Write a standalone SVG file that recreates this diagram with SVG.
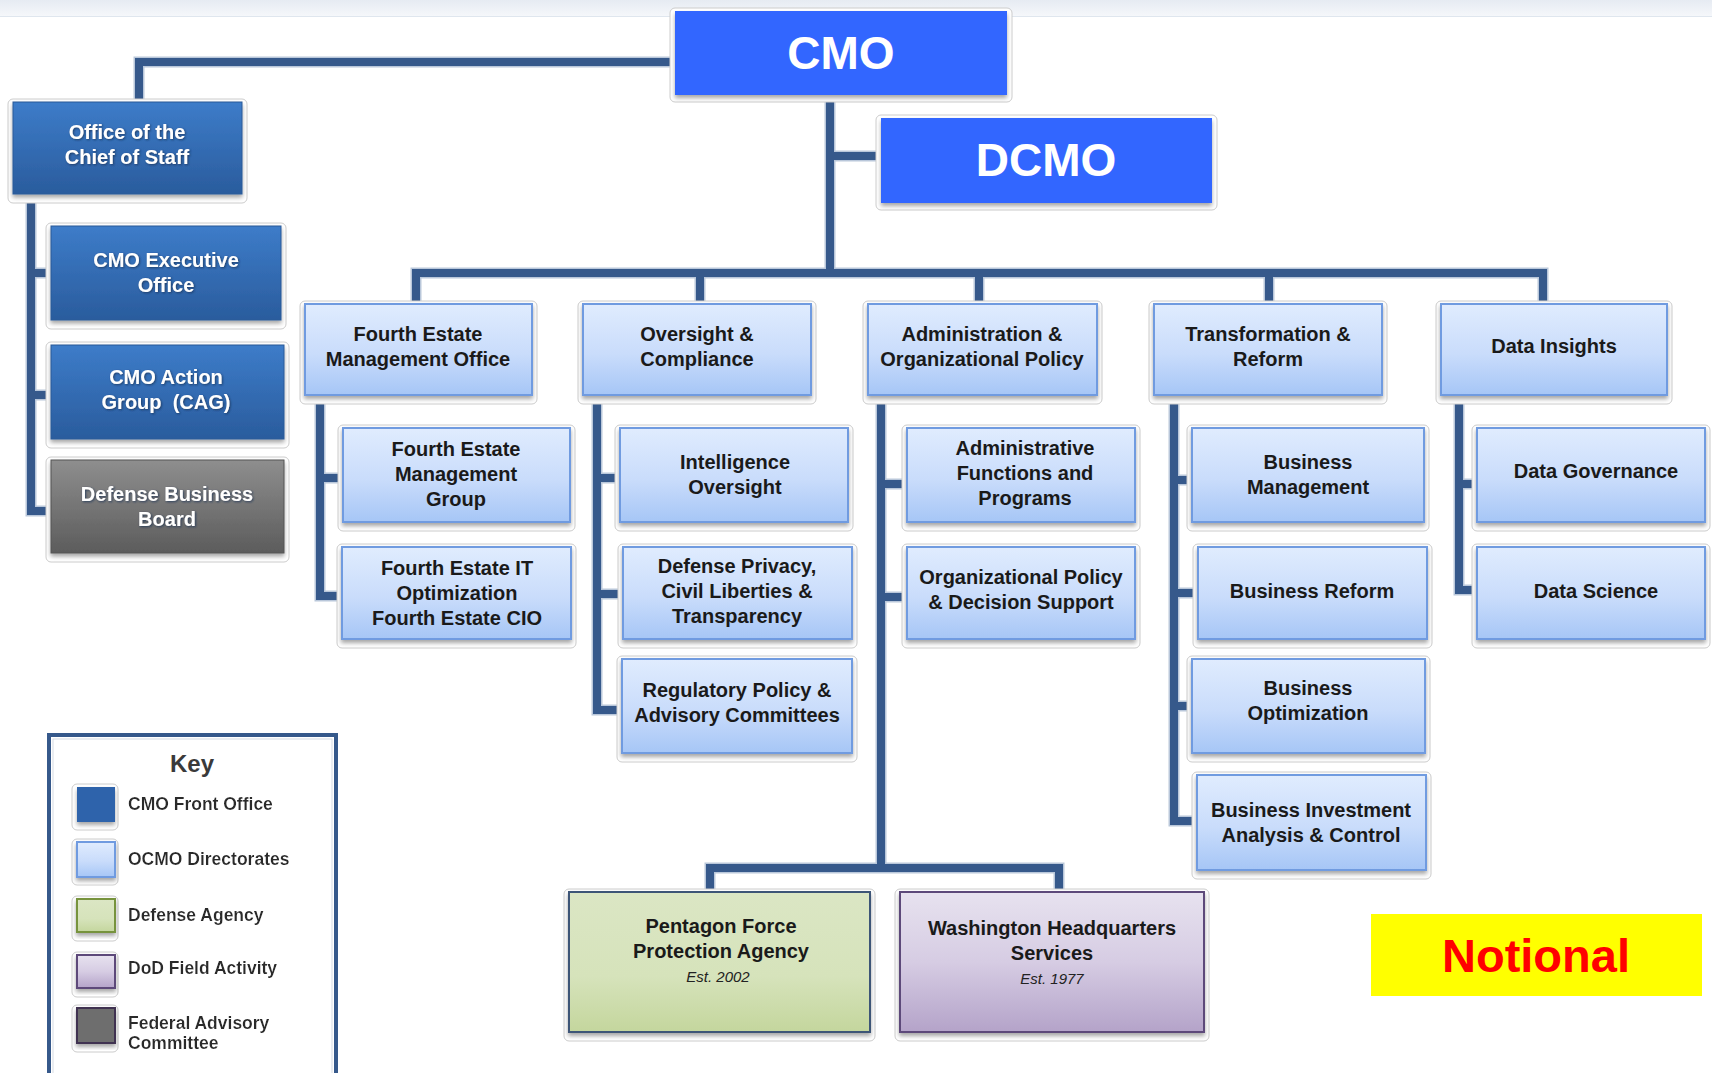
<svg xmlns="http://www.w3.org/2000/svg" width="1712" height="1073" viewBox="0 0 1712 1073">
<defs>
<linearGradient id="gLB" x1="0" y1="0" x2="0" y2="1"><stop offset="0" stop-color="#e0ecfe"/><stop offset="0.55" stop-color="#c9dcfb"/><stop offset="1" stop-color="#a6c6f6"/></linearGradient>
<linearGradient id="gDB" x1="0" y1="0" x2="0" y2="1"><stop offset="0" stop-color="#3d7cc9"/><stop offset="1" stop-color="#2a5c9d"/></linearGradient>
<linearGradient id="gGR" x1="0" y1="0" x2="0" y2="1"><stop offset="0" stop-color="#8e8e8e"/><stop offset="1" stop-color="#5c5c5c"/></linearGradient>
<linearGradient id="gGN" x1="0" y1="0" x2="0" y2="1"><stop offset="0" stop-color="#dbe6c4"/><stop offset="0.6" stop-color="#d6e3bb"/><stop offset="1" stop-color="#c4d69d"/></linearGradient>
<linearGradient id="gPU" x1="0" y1="0" x2="0" y2="1"><stop offset="0" stop-color="#e7e2ef"/><stop offset="0.5" stop-color="#d6cce3"/><stop offset="1" stop-color="#b4a3c9"/></linearGradient>
<linearGradient id="gTop" x1="0" y1="0" x2="0" y2="1"><stop offset="0" stop-color="#e6ebf2"/><stop offset="1" stop-color="#f5f7fa"/></linearGradient>
<filter id="sh" x="-10%" y="-10%" width="120%" height="130%"><feDropShadow dx="0" dy="3" stdDeviation="2" flood-color="#000" flood-opacity="0.35"/></filter>
<filter id="ts" x="-5%" y="-20%" width="110%" height="140%"><feDropShadow dx="1" dy="1" stdDeviation="0.8" flood-color="#1b3355" flood-opacity="0.8"/></filter>
<filter id="tg" x="-5%" y="-20%" width="110%" height="140%"><feDropShadow dx="0" dy="0" stdDeviation="1" flood-color="#ffffff" flood-opacity="1"/></filter>
</defs>
<style>
.halo{fill:#ffffff;stroke:#cccccc;stroke-width:1}
.lb{fill:url(#gLB);stroke:#6f9be0;stroke-width:2;filter:url(#sh)}
.db{fill:url(#gDB);stroke:#2a5a98;stroke-width:1;filter:url(#sh)}
.gr{fill:url(#gGR);stroke:#555;stroke-width:1;filter:url(#sh)}
.gn{fill:url(#gGN);stroke:#3d5577;stroke-width:2;filter:url(#sh)}
.pu{fill:url(#gPU);stroke:#5d4a7a;stroke-width:2;filter:url(#sh)}
.top{fill:#3366ff;filter:url(#sh)}
.t{font-family:"Liberation Sans",Arial,sans-serif;font-size:20px;font-weight:bold;fill:#1a1a1a;text-anchor:middle}
.tw{font-family:"Liberation Sans",Arial,sans-serif;font-size:20px;font-weight:bold;fill:#ffffff;text-anchor:middle;filter:url(#ts)}
.big{font-family:"Liberation Sans",Arial,sans-serif;font-size:46px;font-weight:bold;fill:#ffffff;text-anchor:middle}
.est{font-family:"Liberation Sans",Arial,sans-serif;font-size:15px;font-style:italic;fill:#222;text-anchor:middle}
.lg{font-family:"Liberation Sans",Arial,sans-serif;font-size:17.5px;font-weight:bold;fill:#2a2a2a;filter:url(#tg)}
.under{fill:none;stroke:#b9c7da;stroke-width:11}
.conn{fill:none;stroke:#36598b;stroke-width:8}
</style>
<rect x="0" y="0" width="1712" height="1073" fill="#ffffff"/>
<rect x="0" y="0" width="1712" height="16" fill="url(#gTop)"/>
<line x1="0" y1="16.5" x2="1712" y2="16.5" stroke="#dfe6ee" stroke-width="1"/>

<g id="connectors">
<path class="under" d="M675 62 H139 V102 M31 194 V511 H51 M31 273 H51 M31 395 H51 M830 95 V273 M830 156 H881 M416 302 V273 H1543 V302 M700 273 V304 M979 273 V304 M1269 273 V304 M320 395 V596 H342 M320 478 H343 M597 395 V710 H622 M597 478 H620 M597 594 H623 M881 395 V868 M881 484 H907 M881 597 H907 M710 893 V868 H1059 V893 M1174 395 V821 H1197 M1174 480 H1192 M1174 593 H1198 M1174 706 H1192 M1459 395 V590 H1477 M1459 484 H1477"/>
<path class="conn" d="M675 62 H139 V102 M31 194 V511 H51 M31 273 H51 M31 395 H51 M830 95 V273 M830 156 H881 M416 302 V273 H1543 V302 M700 273 V304 M979 273 V304 M1269 273 V304 M320 395 V596 H342 M320 478 H343 M597 395 V710 H622 M597 478 H620 M597 594 H623 M881 395 V868 M881 484 H907 M881 597 H907 M710 893 V868 H1059 V893 M1174 395 V821 H1197 M1174 480 H1192 M1174 593 H1198 M1174 706 H1192 M1459 395 V590 H1477 M1459 484 H1477"/>
</g>

<g id="cmo">
<rect class="halo" x="670" y="8" width="342" height="94" rx="5"/>
<rect class="top" x="675" y="11" width="332" height="84"/>
<text class="big" x="841" y="69">CMO</text>
</g>
<g id="dcmo">
<rect class="halo" x="876" y="115" width="341" height="95" rx="5"/>
<rect class="top" x="881" y="118" width="331" height="85"/>
<text class="big" x="1046" y="176">DCMO</text>
</g>

<g id="ocs">
<rect class="halo" x="8" y="99" width="239" height="104" rx="5"/>
<rect class="db" x="13" y="102" width="229" height="92"/>
<text class="tw" x="127" y="139">Office of the</text>
<text class="tw" x="127" y="164">Chief of Staff</text>
</g>
<g id="cmo-exec">
<rect class="halo" x="46" y="223" width="240" height="106" rx="5"/>
<rect class="db" x="51" y="226" width="230" height="94"/>
<text class="tw" x="166" y="267">CMO Executive</text>
<text class="tw" x="166" y="292">Office</text>
</g>
<g id="cmo-cag">
<rect class="halo" x="46" y="342" width="243" height="106" rx="5"/>
<rect class="db" x="51" y="345" width="233" height="94"/>
<text class="tw" x="166" y="384">CMO Action</text>
<text class="tw" x="166" y="409" xml:space="preserve">Group  (CAG)</text>
</g>
<g id="dbb">
<rect class="halo" x="46" y="457" width="243" height="105" rx="5"/>
<rect class="gr" x="51" y="460" width="233" height="93"/>
<text class="tw" x="167" y="501">Defense Business</text>
<text class="tw" x="167" y="526">Board</text>
</g>

<g id="femo">
<rect class="halo" x="300" y="301" width="237" height="103" rx="5"/>
<rect class="lb" x="305" y="304" width="227" height="91"/>
<text class="t" x="418" y="341" fill="#333">Fourth Estate</text>
<text class="t" x="418" y="366" fill="#333">Management Office</text>
</g>
<g id="oc">
<rect class="halo" x="578" y="301" width="238" height="103" rx="5"/>
<rect class="lb" x="583" y="304" width="228" height="91"/>
<text class="t" x="697" y="341">Oversight &amp;</text>
<text class="t" x="697" y="366">Compliance</text>
</g>
<g id="aop">
<rect class="halo" x="863" y="301" width="239" height="103" rx="5"/>
<rect class="lb" x="868" y="304" width="229" height="91"/>
<text class="t" x="982" y="341">Administration &amp;</text>
<text class="t" x="982" y="366">Organizational Policy</text>
</g>
<g id="tr">
<rect class="halo" x="1149" y="301" width="238" height="103" rx="5"/>
<rect class="lb" x="1154" y="304" width="228" height="91"/>
<text class="t" x="1268" y="341">Transformation &amp;</text>
<text class="t" x="1268" y="366">Reform</text>
</g>
<g id="di">
<rect class="halo" x="1436" y="301" width="236" height="103" rx="5"/>
<rect class="lb" x="1441" y="304" width="226" height="91"/>
<text class="t" x="1554" y="353">Data Insights</text>
</g>

<g id="femg">
<rect class="halo" x="338" y="425" width="237" height="106" rx="5"/>
<rect class="lb" x="343" y="428" width="227" height="94"/>
<text class="t" x="456" y="456">Fourth Estate</text>
<text class="t" x="456" y="481">Management</text>
<text class="t" x="456" y="506">Group</text>
</g>
<g id="feit">
<rect class="halo" x="337" y="544" width="239" height="104" rx="5"/>
<rect class="lb" x="342" y="547" width="229" height="92"/>
<text class="t" x="457" y="575">Fourth Estate IT</text>
<text class="t" x="457" y="600">Optimization</text>
<text class="t" x="457" y="625">Fourth Estate CIO</text>
</g>

<g id="io">
<rect class="halo" x="615" y="425" width="238" height="106" rx="5"/>
<rect class="lb" x="620" y="428" width="228" height="94"/>
<text class="t" x="735" y="469">Intelligence</text>
<text class="t" x="735" y="494">Oversight</text>
</g>
<g id="dpclt">
<rect class="halo" x="618" y="544" width="239" height="104" rx="5"/>
<rect class="lb" x="623" y="547" width="229" height="92"/>
<text class="t" x="737" y="573">Defense Privacy,</text>
<text class="t" x="737" y="598">Civil Liberties &amp;</text>
<text class="t" x="737" y="623">Transparency</text>
</g>
<g id="rpac">
<rect class="halo" x="617" y="656" width="240" height="106" rx="5"/>
<rect class="lb" x="622" y="659" width="230" height="94"/>
<text class="t" x="737" y="697">Regulatory Policy &amp;</text>
<text class="t" x="737" y="722">Advisory Committees</text>
</g>

<g id="afp">
<rect class="halo" x="902" y="425" width="238" height="106" rx="5"/>
<rect class="lb" x="907" y="428" width="228" height="94"/>
<text class="t" x="1025" y="455">Administrative</text>
<text class="t" x="1025" y="480">Functions and</text>
<text class="t" x="1025" y="505">Programs</text>
</g>
<g id="opds">
<rect class="halo" x="902" y="544" width="238" height="104" rx="5"/>
<rect class="lb" x="907" y="547" width="228" height="92"/>
<text class="t" x="1021" y="584">Organizational Policy</text>
<text class="t" x="1021" y="609">&amp; Decision Support</text>
</g>

<g id="bm">
<rect class="halo" x="1187" y="425" width="242" height="106" rx="5"/>
<rect class="lb" x="1192" y="428" width="232" height="94"/>
<text class="t" x="1308" y="469">Business</text>
<text class="t" x="1308" y="494">Management</text>
</g>
<g id="br">
<rect class="halo" x="1193" y="544" width="239" height="104" rx="5"/>
<rect class="lb" x="1198" y="547" width="229" height="92"/>
<text class="t" x="1312" y="598">Business Reform</text>
</g>
<g id="bo">
<rect class="halo" x="1187" y="656" width="243" height="106" rx="5"/>
<rect class="lb" x="1192" y="659" width="233" height="94"/>
<text class="t" x="1308" y="695">Business</text>
<text class="t" x="1308" y="720">Optimization</text>
</g>
<g id="biac">
<rect class="halo" x="1192" y="772" width="239" height="107" rx="5"/>
<rect class="lb" x="1197" y="775" width="229" height="95"/>
<text class="t" x="1311" y="817">Business Investment</text>
<text class="t" x="1311" y="842">Analysis &amp; Control</text>
</g>

<g id="dg">
<rect class="halo" x="1472" y="425" width="238" height="106" rx="5"/>
<rect class="lb" x="1477" y="428" width="228" height="94"/>
<text class="t" x="1596" y="478">Data Governance</text>
</g>
<g id="ds">
<rect class="halo" x="1472" y="544" width="238" height="104" rx="5"/>
<rect class="lb" x="1477" y="547" width="228" height="92"/>
<text class="t" x="1596" y="598">Data Science</text>
</g>

<g id="pfpa">
<rect class="halo" x="564" y="889" width="311" height="152" rx="5"/>
<rect class="gn" x="569" y="892" width="301" height="140"/>
<text class="t" x="721" y="933">Pentagon Force</text>
<text class="t" x="721" y="958">Protection Agency</text>
<text class="est" x="718" y="982">Est. 2002</text>
</g>
<g id="whs">
<rect class="halo" x="895" y="889" width="314" height="152" rx="5"/>
<rect class="pu" x="900" y="892" width="304" height="140"/>
<text class="t" x="1052" y="935">Washington Headquarters</text>
<text class="t" x="1052" y="960">Services</text>
<text class="est" x="1052" y="984">Est. 1977</text>
</g>

<g id="key">
<rect x="49" y="735" width="287" height="360" fill="#ffffff" stroke="#36598b" stroke-width="4"/>
<rect x="53" y="739" width="279" height="352" fill="none" stroke="#d5dbe4" stroke-width="1"/>
<text x="192" y="772" font-family="'Liberation Sans',Arial,sans-serif" font-size="24" font-weight="bold" fill="#3a3a3a" text-anchor="middle">Key</text>
<rect class="halo" x="72" y="784" width="46" height="46" rx="5"/>
<rect x="77" y="787" width="38" height="35" fill="#2e63ab" filter="url(#sh)"/>
<text class="lg" x="128" y="810">CMO Front Office</text>
<rect class="halo" x="72" y="839" width="46" height="46" rx="5"/>
<rect x="77" y="842" width="38" height="35" fill="url(#gLB)" stroke="#6f9be0" stroke-width="2" filter="url(#sh)"/>
<text class="lg" x="128" y="865">OCMO Directorates</text>
<rect class="halo" x="72" y="896" width="46" height="45" rx="5"/>
<rect x="77" y="899" width="38" height="33" fill="url(#gGN)" stroke="#77933c" stroke-width="2" filter="url(#sh)"/>
<text class="lg" x="128" y="921">Defense Agency</text>
<rect class="halo" x="72" y="952" width="46" height="45" rx="5"/>
<rect x="77" y="955" width="38" height="33" fill="url(#gPU)" stroke="#5d4a7a" stroke-width="2" filter="url(#sh)"/>
<text class="lg" x="128" y="974">DoD Field Activity</text>
<rect class="halo" x="72" y="1005" width="46" height="47" rx="5"/>
<rect x="77" y="1008" width="38" height="35" fill="#6e6e6e" stroke="#3f3151" stroke-width="2" filter="url(#sh)"/>
<text class="lg" x="128" y="1029">Federal Advisory</text>
<text class="lg" x="128" y="1049">Committee</text>
</g>

<g id="notional">
<rect x="1371" y="914" width="331" height="82" fill="#ffff00"/>
<text x="1536" y="972" font-family="'Liberation Sans',Arial,sans-serif" font-size="47" font-weight="bold" fill="#ff0000" text-anchor="middle">Notional</text>
</g>
</svg>
